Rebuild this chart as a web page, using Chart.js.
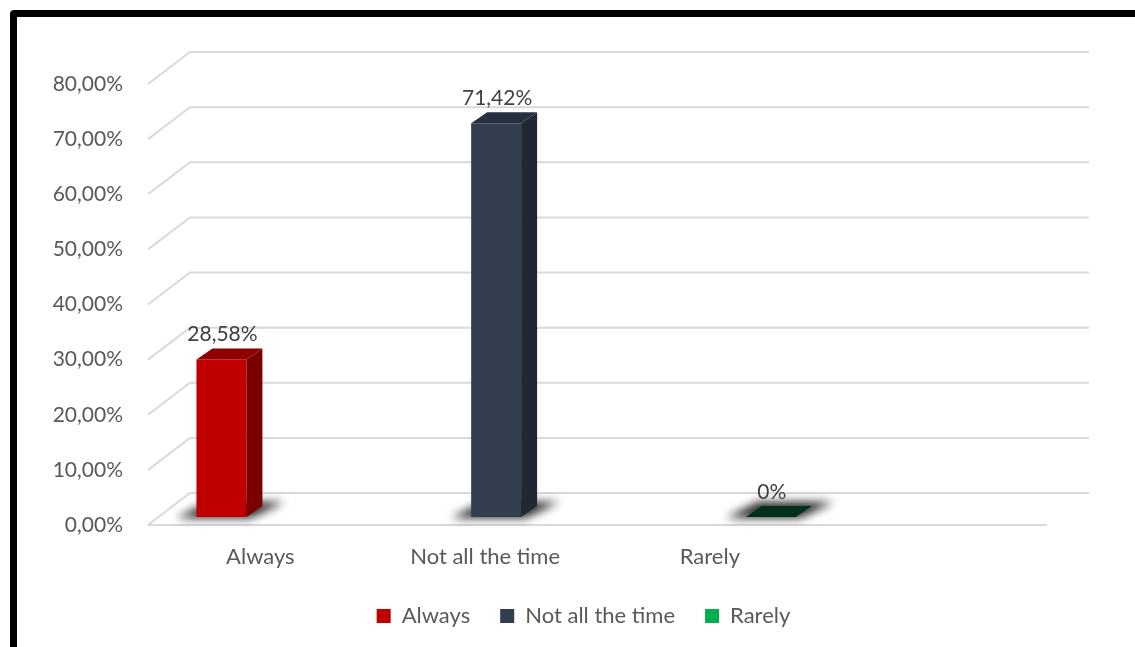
<!DOCTYPE html>
<html>
<head>
<meta charset="utf-8">
<script src="https://cdn.jsdelivr.net/npm/chart.js@4.4.1/dist/chart.umd.min.js"></script>
<style>
  html, body { margin: 0; padding: 0; background: #fff; overflow: hidden; }
  #marco {
    position: absolute; left: 10px; top: 10px;
    width: 1200px; height: 700px;
    border: 7px solid #000; border-radius: 4px;
  }
  #grafico { position: absolute; left: 0; top: 0; }
</style>
</head>
<body>
<div id="marco"></div>
<canvas id="grafico" width="1135" height="637"></canvas>
<script>
  // Datos
  const categorias = ['Always', 'Not all the time', 'Rarely', ''];
  const series = ['Always', 'Not all the time', 'Rarely'];
  const valAlways = [28.58, null, null, null];
  const valNotAll = [null, 71.42, null, null];
  const valRarely = [null, null, 0, null];
  const etiquetas = ['28,58%', '71,42%', '0%'];
  const ticksY = [0, 10, 20, 30, 40, 50, 60, 70, 80];

  // Colores de cada serie: frente, tapa, lateral
  const colores = [
    { frente: '#C00000', tapa: '#900000', lado: '#7A0000' },
    { frente: '#323E4F', tapa: '#27303E', lado: '#212833' },
    { frente: '#00B050', tapa: '#00301A', lado: '#00301A' }
  ];

  const fuente = 'Lato, "Open Sans", sans-serif';

  // Profundidad del piso y de las columnas (efecto 3D)
  const PROF_X = 42, PROF_Y = -32;
  const FILA_X = 11, FILA_Y = -8;
  const ANCHO_X = 16, ANCHO_Y = -11;

  const efecto3D = {
    id: 'efecto3D',
    afterLayout(chart) {
      // la leyenda va centrada un poco más a la derecha
      chart.legend.left += 60;
      chart.legend.right += 60;
    },
    beforeDatasetsDraw(chart) {
      const c = chart.ctx;
      const area = chart.chartArea;
      const y = chart.scales.y;

      // Paredes: diagonal izquierda y líneas del fondo
      c.save();
      c.strokeStyle = '#D9D9D9';
      c.lineWidth = 2;
      y.ticks.forEach(t => {
        const py = y.getPixelForValue(t.value);
        c.beginPath();
        c.moveTo(area.left, py);
        c.lineTo(area.left + PROF_X, py + PROF_Y);
        c.lineTo(area.right + PROF_X, py + PROF_Y);
        c.stroke();
      });
      const base = y.getPixelForValue(0);
      c.beginPath();
      c.moveTo(area.left, base);
      c.lineTo(area.right, base);
      c.stroke();
      c.restore();

      // Columnas
      chart.data.datasets.forEach((ds, i) => {
        const meta = chart.getDatasetMeta(i);
        const col = colores[i];
        meta.data.forEach((bar, j) => {
          if (ds.data[j] === null) return;
          const izq = bar.x - bar.width / 2 + FILA_X;
          const der = bar.x + bar.width / 2 + FILA_X;
          const arriba = bar.y + FILA_Y;
          const abajo = bar.base + FILA_Y;

          // sombra en el piso
          c.save();
          c.filter = 'blur(5px)';
          c.fillStyle = 'rgba(0,0,0,0.85)';
          c.beginPath();
          c.moveTo(izq - 20, abajo + 1);
          c.lineTo(der + 4, abajo + 1);
          c.lineTo(der + ANCHO_X + 22, abajo + ANCHO_Y - 4);
          c.lineTo(izq + ANCHO_X - 4, abajo + ANCHO_Y - 4);
          c.closePath();
          c.fill();
          c.restore();

          if (abajo - arriba > 0.5) {
            c.fillStyle = col.frente;
            c.fillRect(izq, arriba, der - izq, abajo - arriba);
            c.fillStyle = col.lado;
            c.beginPath();
            c.moveTo(der, arriba);
            c.lineTo(der + ANCHO_X, arriba + ANCHO_Y);
            c.lineTo(der + ANCHO_X, abajo + ANCHO_Y);
            c.lineTo(der, abajo);
            c.closePath();
            c.fill();
          }
          c.fillStyle = col.tapa;
          c.beginPath();
          c.moveTo(izq, arriba);
          c.lineTo(izq + ANCHO_X, arriba + ANCHO_Y);
          c.lineTo(der + ANCHO_X, arriba + ANCHO_Y);
          c.lineTo(der, arriba);
          c.closePath();
          c.fill();

          // etiqueta del valor
          c.fillStyle = '#404040';
          c.font = '21px ' + fuente;
          c.textAlign = 'center';
          c.textBaseline = 'middle';
          c.fillText(etiquetas[i], (izq + der) / 2 + 1, arriba + ANCHO_Y - 14);
        });
      });
      return false;
    }
  };

  const ctx = document.getElementById('grafico').getContext('2d');
  const grafico = new Chart(ctx, {
    type: 'bar',
    data: {
      labels: categorias,
      datasets: [
        { label: series[0], data: valAlways, backgroundColor: colores[0].frente, borderWidth: 0 },
        { label: series[1], data: valNotAll, backgroundColor: colores[1].frente, borderWidth: 0 },
        { label: series[2], data: valRarely, backgroundColor: colores[2].frente, borderWidth: 0 }
      ]
    },
    options: {
      responsive: false,
      animation: false,
      datasets: { bar: { categoryPercentage: 2 / 3, barPercentage: 1 } },
      layout: { padding: { left: 0, top: 84, right: 88, bottom: 0 } },
      plugins: {
        tooltip: { enabled: false },
        legend: {
          position: 'bottom',
          labels: {
            boxWidth: 14, boxHeight: 14, padding: 30,
            color: '#595959',
            font: { family: fuente, size: 22 }
          }
        }
      },
      scales: {
        x: {
          grid: { display: false, drawTicks: false },
          border: { display: false },
          ticks: { color: '#595959', padding: 19, maxRotation: 0, font: { family: fuente, size: 22 } },
          afterFit(s) { s.height = 50; }
        },
        y: {
          min: 0, max: 80,
          afterBuildTicks(s) { s.ticks = ticksY.map(v => ({ value: v })); },
          grid: { display: false, drawTicks: false },
          border: { display: false },
          ticks: {
            color: '#595959', padding: 25,
            font: { family: fuente, size: 21 },
            callback: v => v.toFixed(2).replace('.', ',') + '%'
          },
          afterFit(s) { s.width = 148; }
        }
      }
    },
    plugins: [efecto3D]
  });
</script>
</body>
</html>
